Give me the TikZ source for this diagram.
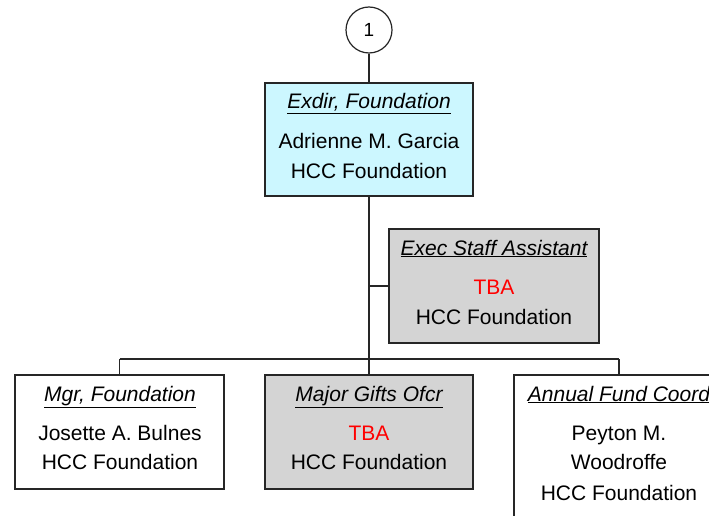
\documentclass[tikz,border=0pt]{standalone}
\usepackage{fontspec}
\setmainfont{Liberation Sans}
\definecolor{cyanfill}{HTML}{CCF7FF}
\definecolor{grayfill}{HTML}{D4D4D4}
\definecolor{tbared}{HTML}{FF0000}
\begin{document}
\begin{tikzpicture}[x=1pt,y=-1pt,
  box/.style={draw=black!85,line width=1.5pt,rectangle,inner sep=0pt},
  conn/.style={draw=black!85,line width=1.5pt},
  txt/.style={anchor=base,inner sep=0pt,font=\fontsize{21}{24}\selectfont},
  ttl/.style={txt,font=\fontsize{21}{24}\selectfont\itshape},
  red/.style={txt,text=tbared}]
\useasboundingbox (0,0) rectangle (709,516);
\clip (0,0) rectangle (709,516);
\fill[white] (0,0) rectangle (709,516);
% circle
\node[draw=black!85,circle,line width=1.2pt,minimum size=46pt,inner sep=0pt,font=\fontsize{19}{22}\selectfont] (c1) at (369,30) {1};
% boxes
\node[box,fill=cyanfill,minimum width=208pt,minimum height=113pt] (ex) at (369,139.5) {};
\node[box,fill=grayfill,minimum width=210pt,minimum height=114pt] (es) at (494,286) {};
\node[box,fill=white,minimum width=209pt,minimum height=114pt] (mg) at (119.5,432) {};
\node[box,fill=white,minimum width=208pt,minimum height=114pt,fill=grayfill] (mj) at (369,432) {};
\node[box,fill=white,minimum width=210pt,minimum height=160pt] (af) at (619,455) {};
% connectors
\coordinate (bus) at (369,359);
\coordinate (esj) at (369,286);
\coordinate (busl) at (119.5,359);
\coordinate (busr) at (619,359);
\draw[conn] (c1.south) -- (ex.north);
\draw[conn] (ex.south) -- (bus);
\draw[conn] (esj) -- (es.west);
\draw[conn] (busl) -- (busr);
\draw[conn] (busl) -- (mg.north);
\draw[conn] (bus) -- (mj.north);
\draw[conn] (busr) -- (af.north);
% texts
\node[ttl] (ex1) at (369,109) {\underline{Exdir, Foundation}};
\node[txt] (ex2) at (369,148) {Adrienne M. Garcia};
\node[txt] (ex3) at (369,178) {HCC Foundation};
\node[ttl] (es1) at (494,255) {\underline{Exec Staff Assistant}};
\node[red] (es2) at (494,294) {TBA};
\node[txt] (es3) at (494,324) {HCC Foundation};
\node[ttl] (mg1) at (120,401) {\underline{Mgr, Foundation}};
\node[txt] (mg2) at (120,440) {Josette A. Bulnes};
\node[txt] (mg3) at (120,469) {HCC Foundation};
\node[ttl] (mj1) at (369,401) {\underline{Major Gifts Ofcr}};
\node[red] (mj2) at (369,440) {TBA};
\node[txt] (mj3) at (369,469) {HCC Foundation};
\node[ttl] (af1) at (619,401) {\underline{Annual Fund Coord}};
\node[txt] (af2) at (619,440) {Peyton M.};
\node[txt] (af3) at (619,469) {Woodroffe};
\node[txt] (af4) at (619,500) {HCC Foundation};
\end{tikzpicture}
\end{document}
